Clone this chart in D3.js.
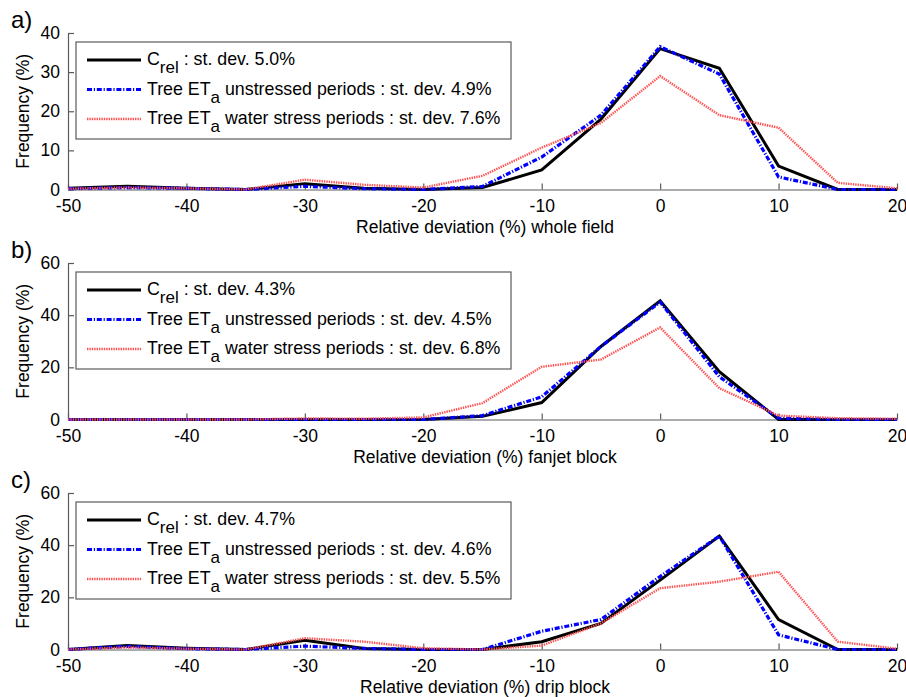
<!DOCTYPE html>
<html>
<head>
<meta charset="utf-8">
<script src="https://cdn.jsdelivr.net/npm/d3@7"></script>
<style>
  body { margin: 0; background: #fff; }
  svg text { font-family: "Liberation Sans", Arial, sans-serif; fill: #000; }
  .axis path, .axis line { stroke: #5a5a5a; stroke-width: 1.2; }
  .axis text { font-size: 17.5px; }
  .crel { fill: none; stroke: #000; stroke-width: 3; stroke-linejoin: miter; }
  .unstressed { fill: none; stroke: #0000ff; stroke-width: 3.2; stroke-dasharray: 5,1.8,1.2,1.8; }
  .stress { fill: none; stroke: #ff5050; stroke-width: 2.4; stroke-dasharray: 1.4,1; }
  .legendbox { fill: #fff; stroke: #5a5a5a; stroke-width: 1.2; }
  .legend { font-size: 17.8px; }
</style>
</head>
<body>
<svg id="chart" width="906" height="697"></svg>
<script>
// bin centres (relative deviation, %)
const bins = [-50,-45,-40,-35,-30,-25,-20,-15,-10,-5,0,5,10,15,20];
const xTicks = [-50,-40,-30,-20,-10,0,10,20];

// a) whole field
const crelA       = [0.3,0.8,0.3,0,1.5,0.3,0,0.5,5,18,36,31,6,0,0];
const unstressedA = [0.2,0.5,0.3,0,0.8,0.2,0,0.8,8.3,19,36.5,29.5,3.2,0,0];
const stressA     = [0.2,0.5,0.3,0,2.5,1.2,0.5,3.5,10.7,17,29,19,15.8,1.7,0.3];
// b) fanjet block
const crelB       = [0,0,0,0,0,0,0,1.2,6.5,28,45.5,18.3,0,0,0];
const unstressedB = [0,0,0,0,0,0,0,1.5,8.7,28,45,16.4,0.5,0,0];
const stressB     = [0,0,0,0,0.4,0.3,0.8,6.3,20.2,23,35.3,12,1.5,0.5,0.3];
// c) drip block
const crelC       = [0,1.5,0.5,0,3.5,0.4,0,0,3,10,26.6,43.5,11.5,0,0];
const unstressedC = [0,1.2,0.3,0,1.3,0.4,0,0,7,11.5,28,43.5,5.6,0,0];
const stressC     = [0,0.8,0.3,0,4.3,3,0.5,0,1.5,10,23.5,26,29.8,3,0.3];

const panels = [
  {label: "a)", top: 33, bottom: 189.5, yMax: 40, yTicks: [0,10,20,30,40], xLabel: "Relative deviation (%) whole field",
   crel: crelA, un: unstressedA, st: stressA, sd: ["5.0%","4.9%","7.6%"]},
  {label: "b)", top: 263, bottom: 419.5, yMax: 60, yTicks: [0,20,40,60], xLabel: "Relative deviation (%) fanjet block",
   crel: crelB, un: unstressedB, st: stressB, sd: ["4.3%","4.5%","6.8%"]},
  {label: "c)", top: 493, bottom: 649.5, yMax: 60, yTicks: [0,20,40,60], xLabel: "Relative deviation (%) drip block",
   crel: crelC, un: unstressedC, st: stressC, sd: ["4.7%","4.6%","5.5%"]}
];

const svg = d3.select("#chart");
const xScale = d3.scaleLinear().domain([-50, 20]).range([68, 897]);

panels.forEach(p => {
  let g = svg.append("g");
  let yScale = d3.scaleLinear().domain([0, p.yMax]).range([p.bottom, p.top]);

  let xAxis = d3.axisBottom(xScale).tickValues(xTicks).tickFormat(d => String(d))
    .tickSizeInner(-6).tickSizeOuter(0).tickPadding(10);
  let xg = g.append("g").attr("class", "axis").attr("transform", `translate(0,${p.bottom})`).call(xAxis);
  xg.selectAll(".tick text").attr("dy", "0.71em");

  let yAxis = d3.axisLeft(yScale).tickValues(p.yTicks).tickFormat(d => String(d))
    .tickSizeInner(-6).tickSizeOuter(0).tickPadding(8);
  g.append("g").attr("class", "axis").attr("transform", "translate(68,0)").call(yAxis);

  g.append("text").attr("x", 485).attr("y", p.bottom + 43.5).attr("text-anchor", "middle")
    .style("font-size", "17.5px").text(p.xLabel);
  g.append("text").attr("transform", `translate(29,${(p.top + p.bottom) / 2}) rotate(-90)`)
    .attr("text-anchor", "middle").style("font-size", "17.5px").text("Frequency (%)");
  g.append("text").attr("x", 11).attr("y", p.top - 5).style("font-size", "24px").text(p.label);

  let line = d3.line().x((d, i) => xScale(bins[i])).y(d => yScale(d));
  g.append("path").attr("class", "crel").attr("d", line(p.crel));
  g.append("path").attr("class", "unstressed").attr("d", line(p.un));
  g.append("path").attr("class", "stress").attr("d", line(p.st));

  // legend
  let ly = p.top + 9;
  g.append("rect").attr("class", "legendbox").attr("x", 76).attr("y", ly).attr("width", 435).attr("height", 97);
  let rows = [
    {cls: "crel", parts: [["C", null], ["rel", "sub"], [" : st. dev. " + p.sd[0], null]]},
    {cls: "unstressed", parts: [["Tree ET", null], ["a", "sub"], [" unstressed periods : st. dev. " + p.sd[1], null]]},
    {cls: "stress", parts: [["Tree ET", null], ["a", "sub"], [" water stress periods : st. dev. " + p.sd[2], null]]}
  ];
  rows.forEach((r, i) => {
    let cy = ly + 18 + i * 29.5;
    g.append("line").attr("class", r.cls).attr("x1", 87).attr("x2", 141).attr("y1", cy).attr("y2", cy);
    let t = g.append("text").attr("class", "legend").attr("x", 147).attr("y", cy + 5);
    r.parts.forEach(pt => {
      let ts = t.append("tspan").text(pt[0]);
      if (pt[1] === "sub") ts.attr("dy", 8).style("font-size", "17px");
      else if (pt[0].startsWith(" ")) ts.attr("dy", -8);
    });
  });
});
</script>
</body>
</html>
